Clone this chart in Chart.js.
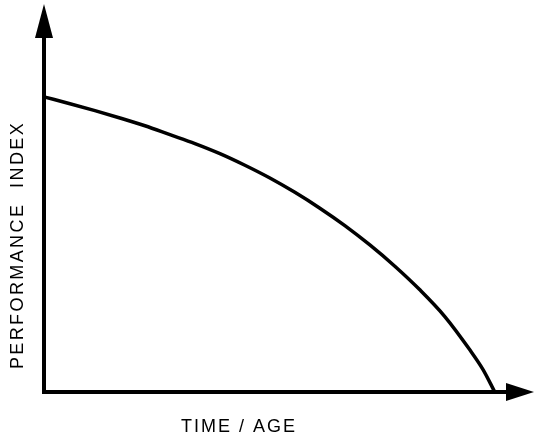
<!DOCTYPE html>
<html>
<head>
<meta charset="utf-8">
<script src="https://cdn.jsdelivr.net/npm/chart.js@4/dist/chart.umd.min.js"></script>
<style>
  html, body { margin: 0; padding: 0; background: #fff; }
  #wrap { width: 536px; height: 438px; }
</style>
</head>
<body>
<div id="wrap"><canvas id="perfCanvas" width="536" height="438"></canvas></div>
<script>
// Curve (time/age in 0..10, performance in 0..10)
const timeAge = [0.02, 0.53, 1.04, 1.55, 2.06, 2.57, 3.08, 3.59, 4.10, 4.61,
                 5.12, 5.63, 6.14, 6.65, 7.16, 7.67, 8.18, 8.69, 8.96, 9.20];
const performance = [7.62, 7.45, 7.27, 7.08, 6.88, 6.65, 6.42, 6.16, 5.86, 5.53,
                     5.16, 4.75, 4.30, 3.80, 3.25, 2.64, 1.95, 1.09, 0.58, 0];

const xTitle = "TIME / AGE";
const yTitle = "PERFORMANCE  INDEX";

// Hàm vẽ trục có mũi tên + tiêu đề trục
const arrowAxes = {
  id: "arrowAxes",
  beforeDatasetsDraw(chart) {
    const ctx = chart.ctx;
    const { left, right, top, bottom } = chart.chartArea;
    ctx.save();
    ctx.strokeStyle = "#000";
    ctx.fillStyle = "#000";
    ctx.lineWidth = 4;
    ctx.lineCap = "butt";

    ctx.beginPath();
    ctx.moveTo(left, top + 20);
    ctx.lineTo(left, bottom);
    ctx.lineTo(right - 20, bottom);
    ctx.stroke();

    // mũi tên trục y
    ctx.beginPath();
    ctx.moveTo(left, top - 1);
    ctx.lineTo(left - 9, top + 33);
    ctx.lineTo(left + 9, top + 33);
    ctx.closePath();
    ctx.fill();

    // mũi tên trục x
    ctx.beginPath();
    ctx.moveTo(right, bottom);
    ctx.lineTo(right - 28, bottom - 9);
    ctx.lineTo(right - 28, bottom + 9);
    ctx.closePath();
    ctx.fill();

    ctx.font = "18px 'Liberation Sans', Arial, sans-serif";
    ctx.letterSpacing = "2px";
    ctx.textAlign = "center";
    ctx.textBaseline = "middle";
    ctx.fillText(xTitle, 239, 427);

    ctx.translate(18, 245);
    ctx.rotate(-Math.PI / 2);
    ctx.letterSpacing = "2.4px";
    ctx.fillText(yTitle, 0, 0);
    ctx.restore();
  }
};

const ctx = document.getElementById("perfCanvas").getContext("2d");

window.perfChart = new Chart(ctx, {
  type: "line",
  data: {
    labels: timeAge,
    datasets: [{
      label: "Performance index",
      data: timeAge.map((x, i) => ({ x: x, y: performance[i] })),
      borderColor: "#000",
      borderWidth: 3.5,
      pointRadius: 0,
      cubicInterpolationMode: "monotone",
      fill: false
    }]
  },
  options: {
    responsive: false,
    animation: false,
    layout: {
      padding: { left: 44, right: 2, top: 5, bottom: 46 }
    },
    plugins: {
      legend: { display: false },
      tooltip: { enabled: false }
    },
    scales: {
      x: { type: "linear", min: 0, max: 10, display: false },
      y: { type: "linear", min: 0, max: 10, display: false }
    }
  },
  plugins: [arrowAxes]
});
</script>
</body>
</html>
